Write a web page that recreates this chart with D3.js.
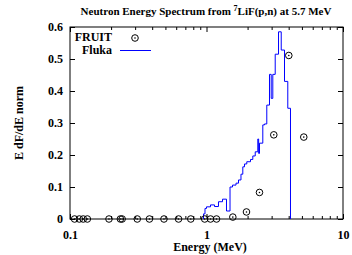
<!DOCTYPE html>
<html>
<head>
<meta charset="utf-8">
<script src="https://cdn.jsdelivr.net/npm/d3@7"></script>
<style>
  body { margin: 0; background: #fff; }
  text { font-family: "Liberation Serif", "Times New Roman", serif; font-weight: bold; fill: #000; }
</style>
</head>
<body>
<svg width="352" height="255"></svg>
<script>
// FRUIT measured points (MeV, normalised E dF/dE)
var fruitE = [0.108, 0.117, 0.125, 0.134, 0.193, 0.234, 0.241, 0.311, 0.382, 0.488,
              0.624, 0.767, 0.970, 1.07, 1.184, 1.559, 1.963, 2.444, 3.112, 4.008, 5.16];
var fruitV = [0, 0, 0, 0, 0, 0, 0, 0, 0, 0,
              0, 0, 0, 0, 0, 0.006, 0.022, 0.083, 0.263, 0.511, 0.256];

// Fluka histogram: bin edges (MeV) and bin contents
var flukaEdges = [0.951, 0.975, 1.0, 1.07, 1.145, 1.224, 1.31, 1.401, 1.487, 1.551,
                  1.645, 1.716, 1.789, 1.845, 1.898, 1.973, 2.101, 2.184, 2.275, 2.376,
                  2.41, 2.445, 2.585, 2.66, 2.765, 2.894, 2.979, 3.06, 3.187, 3.37,
                  3.527, 3.728, 3.94, 4.124];
var flukaValues = [0.016, 0.033, 0.038, 0.044, 0.039, 0.054, 0.062, 0.025, 0.100,
                   0.106, 0.112, 0.122, 0.140, 0.163, 0.172, 0.179, 0.186, 0.197, 0.210,
                   0.250, 0.205, 0.237, 0.294, 0.297, 0.356, 0.452, 0.377, 0.452, 0.515,
                   0.585, 0.528, 0.430, 0.346];

var yTicks = [0, 0.1, 0.2, 0.3, 0.4, 0.5, 0.6];
var xTicks = [0.1, 1, 10];

var svg = d3.select("svg"),
    margin = {top: 27, right: 9, bottom: 36, left: 70},
    width = +svg.attr("width") - margin.left - margin.right,
    height = +svg.attr("height") - margin.top - margin.bottom;

var x = d3.scaleLog().domain([0.1, 10]).range([0, width]),
    y = d3.scaleLinear().domain([0, 0.6]).range([height, 0]);

var g = svg.append("g")
    .attr("transform", "translate(" + margin.left + "," + margin.top + ")");

// minor ticks for the log axis
var minor = [];
[0.1, 1].forEach(function(d) {
  for (var k = 2; k <= 9; k++) minor.push(d * k);
});

function styleAxis(sel) {
  sel.select(".domain").remove();
  sel.selectAll("line").attr("stroke", "#000");
  sel.selectAll("text").style("font-size", "12px");
}

// bottom / top x axes, ticks pointing inwards
g.append("g")
    .attr("transform", "translate(0," + height + ")")
    .call(d3.axisBottom(x).tickValues(xTicks).tickFormat(d3.format("")).tickSizeInner(-5).tickPadding(11))
    .call(styleAxis);
g.append("g")
    .attr("transform", "translate(0," + height + ")")
    .call(d3.axisBottom(x).tickValues(minor).tickFormat("").tickSizeInner(-3))
    .call(styleAxis);
g.append("g")
    .call(d3.axisTop(x).tickValues(xTicks).tickFormat("").tickSizeInner(-5))
    .call(styleAxis);
g.append("g")
    .call(d3.axisTop(x).tickValues(minor).tickFormat("").tickSizeInner(-3))
    .call(styleAxis);

// left / right y axes
g.append("g")
    .call(d3.axisLeft(y).tickValues(yTicks).tickFormat(function(d) { return d === 0 ? "0" : d3.format(".1f")(d); })
      .tickSizeInner(-5).tickPadding(7))
    .call(styleAxis);
g.append("g")
    .attr("transform", "translate(" + width + ",0)")
    .call(d3.axisRight(y).tickValues(yTicks).tickFormat("").tickSizeInner(-5))
    .call(styleAxis);

// frame
g.append("rect")
    .attr("width", width)
    .attr("height", height)
    .attr("fill", "none")
    .attr("stroke", "#000");

// Fluka step histogram
var pts = [[flukaEdges[0], 0]];
flukaValues.forEach(function(v, i) {
  pts.push([flukaEdges[i], v]);
  pts.push([flukaEdges[i + 1], v]);
});
pts.push([flukaEdges[flukaEdges.length - 1], 0]);

g.append("path")
    .datum(pts)
    .attr("fill", "none")
    .attr("stroke", "#0000ff")
    .attr("stroke-width", 1)
    .attr("d", d3.line().x(function(d) { return x(d[0]); }).y(function(d) { return y(d[1]); }));

// FRUIT points: open circle with a dot
function marker(sel) {
  sel.append("circle").attr("r", 3.3).attr("fill", "none").attr("stroke", "#000").attr("stroke-width", 1);
  sel.append("circle").attr("r", 0.8).attr("fill", "#000");
}
g.selectAll(".pt")
    .data(fruitE)
    .enter().append("g")
      .attr("class", "pt")
      .attr("transform", function(d, i) { return "translate(" + x(d) + "," + y(fruitV[i]) + ")"; })
      .call(marker);

// legend
svg.append("text").attr("x", 112).attr("y", 41).attr("text-anchor", "end").style("font-size", "12px").text("FRUIT");
svg.append("g").attr("transform", "translate(135,38)").call(marker);
svg.append("text").attr("x", 112).attr("y", 54).attr("text-anchor", "end").style("font-size", "12px").text("Fluka");
svg.append("line").attr("x1", 120).attr("x2", 151).attr("y1", 50.5).attr("y2", 50.5)
    .attr("stroke", "#0000ff").attr("stroke-width", 1);

// title
var title = svg.append("text")
    .attr("x", 206).attr("y", 15)
    .attr("text-anchor", "middle")
    .style("font-size", "11px");
title.append("tspan").text("Neutron Energy Spectrum from ");
title.append("tspan").attr("dy", -4).style("font-size", "8px").text("7");
title.append("tspan").attr("dy", 4).text("LiF(p,n) at 5.7 MeV");

// axis labels
svg.append("text")
    .attr("x", 210).attr("y", 251)
    .attr("text-anchor", "middle")
    .style("font-size", "12px")
    .text("Energy (MeV)");
svg.append("text")
    .attr("transform", "translate(23," + (margin.top + height / 2) + ") rotate(-90)")
    .attr("text-anchor", "middle")
    .style("font-size", "12px")
    .text("E dF/dE norm");
</script>
</body>
</html>
